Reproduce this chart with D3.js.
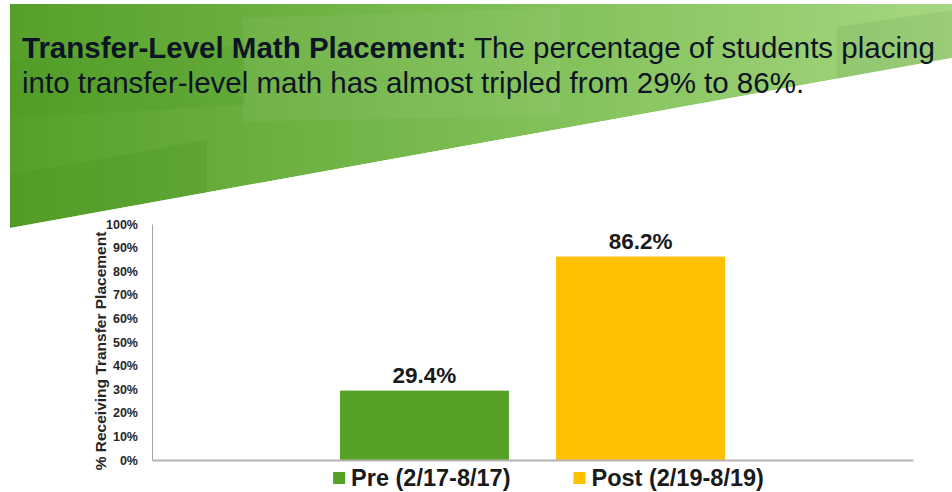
<!DOCTYPE html>
<meta charset="utf-8">
<script src="https://cdn.jsdelivr.net/npm/d3@7"></script>
<style>
  body { margin: 0; background: #fff; }
  text { font-family: "Liberation Sans", Arial, sans-serif; }
</style>
<body>
<script>

var width = 952
var height = 492

// data
var series = ["Pre (2/17-8/17)", "Post (2/19-8/19)"]
var values = [29.4, 86.2]
var colors = ["#56a227", "#ffc000"]
var yTicks = [0, 10, 20, 30, 40, 50, 60, 70, 80, 90, 100]
var titleBold = "Transfer-Level Math Placement:"
var titleRest = " The percentage of students placing"
var titleLine2 = "into transfer-level math has almost tripled from 29% to 86%."
var yTitle = "% Receiving Transfer Placement"

var svg = d3.select("body").append("svg")
            .attr("width", width)
            .attr("height", height)

// green banner
var defs = svg.append("defs")
var grad = defs.append("linearGradient").attr("id", "bannerGrad")
             .attr("x1", "0%").attr("x2", "100%").attr("y1", "0%").attr("y2", "0%")
grad.append("stop").attr("offset", "0%").attr("stop-color", "#56a02a")
grad.append("stop").attr("offset", "55%").attr("stop-color", "#80c057")
grad.append("stop").attr("offset", "100%").attr("stop-color", "#a6d781")

var bannerPts = [[10, 4], [952, 4], [952, 58], [10, 228]]
defs.append("clipPath").attr("id", "bannerClip")
    .append("polygon").attr("points", bannerPts.join(" "))

var banner = svg.append("g").attr("clip-path", "url(#bannerClip)")
banner.append("polygon").attr("points", bannerPts.join(" ")).attr("fill", "url(#bannerGrad)")

// subtle shapes on the banner
var shades = [
  {pts: [[10, 60], [245, 45], [245, 105], [10, 118]], fill: "#3f8a18", op: 0.15},
  {pts: [[243, 18], [560, 8], [560, 115], [243, 122]], fill: "#ffffff", op: 0.05},
  {pts: [[10, 175], [207, 140], [207, 240], [10, 240]], fill: "#3f8a18", op: 0.2},
  {pts: [[837, 27], [952, 10], [952, 80], [837, 80]], fill: "#5f8f4a", op: 0.15}
]
banner.selectAll("polygon.shade").data(shades).enter().append("polygon")
      .attr("class", "shade")
      .attr("points", d => d.pts.join(" "))
      .attr("fill", d => d.fill)
      .attr("opacity", d => d.op)

var title = svg.append("text").attr("x", 22).attr("y", 58)
               .style("font-size", "29.5px").attr("fill", "#0d1424")
title.append("tspan").style("font-weight", "bold").text(titleBold)
title.append("tspan").text(titleRest)
svg.append("text").attr("x", 22).attr("y", 93)
   .style("font-size", "29.5px").attr("fill", "#0d1424")
   .text(titleLine2)

// chart
var plotLeft = 152, plotRight = 913, plotTop = 224, plotBottom = 460

var y = d3.scaleLinear().domain([0, 100]).range([plotBottom, plotTop])

var xCat = d3.scaleBand().domain(["all"]).range([plotLeft, plotRight]).paddingOuter(0.488)
var x = d3.scaleBand().domain(series).range([0, xCat.bandwidth()]).paddingInner(0.218)

var yAxis = d3.axisLeft(y).tickValues(yTicks).tickSize(0).tickPadding(14)
              .tickFormat(d => d + "%")
var gy = svg.append("g").attr("transform", "translate(" + plotLeft + ",0)").call(yAxis)
gy.select(".domain").attr("stroke", "#a6a6a6").attr("stroke-width", 1)
gy.selectAll("text").style("font-size", "12.5px").style("font-weight", "bold").attr("fill", "#262626")

var bars = svg.append("g").attr("transform", "translate(" + xCat("all") + ",0)")
bars.selectAll("rect").data(values).enter().append("rect")
    .attr("x", (d, i) => x(series[i]))
    .attr("width", x.bandwidth())
    .attr("y", d => y(d))
    .attr("height", d => y(0) - y(d))
    .attr("fill", (d, i) => colors[i])

bars.selectAll("text.lbl").data(values).enter().append("text")
    .attr("class", "lbl")
    .attr("x", (d, i) => x(series[i]) + x.bandwidth() / 2)
    .attr("y", d => y(d) - 8)
    .style("text-anchor", "middle")
    .style("font-size", "22.5px")
    .style("font-weight", "bold")
    .attr("fill", "#1a1a1a")
    .text(d => d.toFixed(1) + "%")

var xAxis = d3.axisBottom(xCat).tickSize(0).tickFormat("")
var gx = svg.append("g").attr("transform", "translate(0," + plotBottom + ")").call(xAxis)
gx.select(".domain").attr("stroke", "#b3b3b3").attr("stroke-width", 2)

// y title
svg.append("text")
   .attr("transform", "translate(106," + ((plotTop + plotBottom) / 2 + 9) + ") rotate(-90)")
   .style("text-anchor", "middle")
   .style("font-size", "15.5px")
   .style("font-weight", "bold")
   .attr("fill", "#262626")
   .text(yTitle)

// legend, centred under the plot
var legend = svg.append("g")
var items = legend.selectAll("g").data(series).enter().append("g")
items.append("rect").attr("x", 0).attr("y", 472).attr("width", 12).attr("height", 12)
     .attr("fill", (d, i) => colors[i])
items.append("text").attr("x", 18).attr("y", 486)
     .style("font-size", "23.5px").style("font-weight", "bold").attr("fill", "#1a1a1a")
     .text(d => d)
var gap = 63, widths = []
items.each(function() { widths.push(d3.select(this).select("text").node().getComputedTextLength() + 18) })
var total = d3.sum(widths) + gap * (widths.length - 1)
var lx = (plotLeft + plotRight) / 2 + 16 - total / 2
items.attr("transform", function(d, i) {
  var t = "translate(" + lx + ",0)"
  lx += widths[i] + gap
  return t
})

</script>
</body>
